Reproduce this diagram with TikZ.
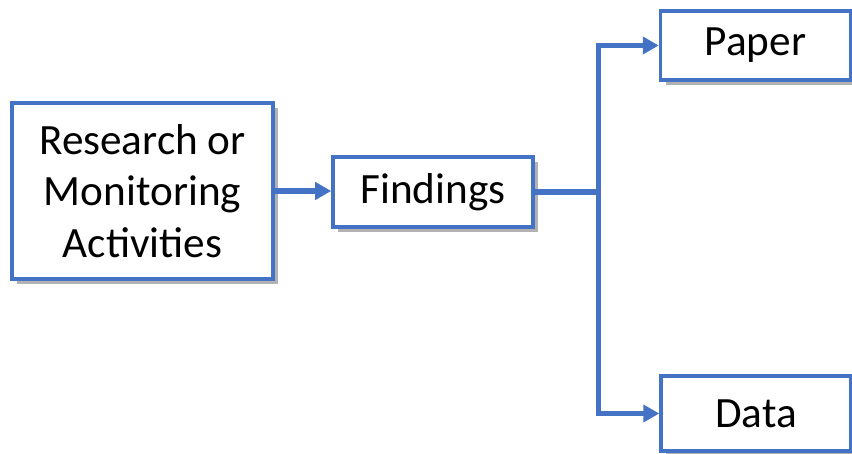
\documentclass[tikz,border=0pt]{standalone}
\usepackage{fontspec}
\setmainfont{Carlito}
\usetikzlibrary{arrows.meta,shadows}
\definecolor{bl}{HTML}{4472C4}
\tikzset{bx/.append style={draw=bl, line width=1pt, fill=white, align=center, inner sep=0pt,
    font=\fontsize{12.3}{14.6}\selectfont,
    drop shadow={shadow xshift=0.05cm, shadow yshift=-0.05cm, fill=black, opacity=0.3}}}
\tikzset{ln/.append style={draw=bl, line width=1.45pt, -{Triangle[length=0.16cm,width=0.17cm]}}}

\begin{document}
\begin{tikzpicture}
                \useasboundingbox (0,0) rectangle (8.52,4.54);
                % boxes
                \node[bx, minimum width=2.61cm, minimum height=1.76cm] (res) at (1.425,2.63) {Research or\\Monitoring\\Activities};
                \node[bx, minimum width=2.00cm, minimum height=0.70cm] (find) at (4.33,2.62) {Findings};
                \node[bx, minimum width=1.90cm, minimum height=0.69cm] (paper) at (7.555,4.085) {Paper};
                \node[bx, minimum width=1.90cm, minimum height=0.75cm] (data) at (7.56,0.405) {Data};
                % links
                \path[ln] (res.east) -- (res.east -| find.west);
                \path[ln] (find.east) -- ++(0.64,0) |- (paper.west);
                \path[ln] (find.east) -- ++(0.64,0) |- (data.west);
            \end{tikzpicture}
\end{document}
